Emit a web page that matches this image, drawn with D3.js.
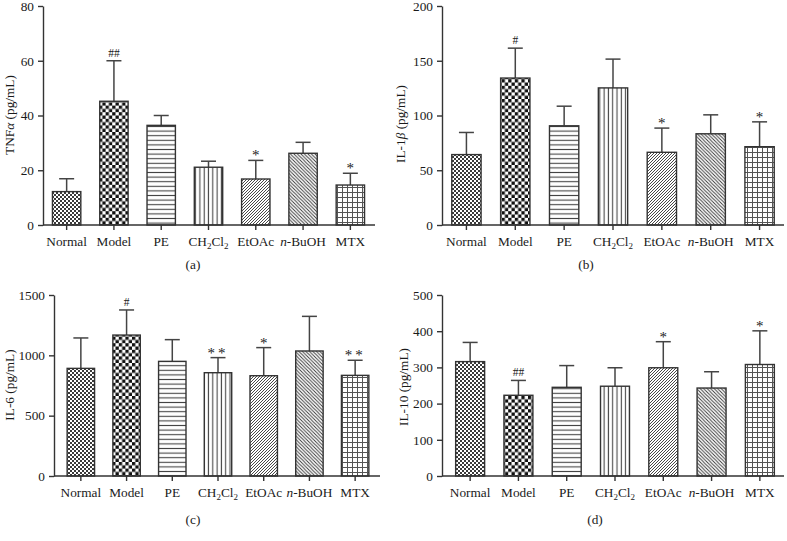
<!DOCTYPE html>
<html><head><meta charset="utf-8">
<script src="https://cdn.jsdelivr.net/npm/d3@7"></script>
<style>
body{margin:0;background:#fff;}
svg{display:block;font-family:"Liberation Serif","Times New Roman",serif;}
</style></head>
<body>
<svg id="chart" width="787" height="541"></svg>
<script>
const categories = ["Normal","Model","PE","CH2Cl2","EtOAc","n-BuOH","MTX"];
const tnfMean = [12.2, 45.2, 36.4, 21.1, 16.8, 26.2, 14.6];
const tnfSD   = [4.7, 14.8, 3.6, 2.2, 6.8, 4.0, 4.3];
const il1bMean = [64.3, 134.2, 90.6, 125.2, 66.4, 83.3, 71.5];
const il1bSD   = [20.2, 27.3, 17.9, 26.3, 22.1, 17.3, 22.7];
const il6Mean = [892, 1168, 950, 856, 831, 1036, 834];
const il6SD   = [252, 208, 180, 125, 233, 287, 125];
const il10Mean = [316, 223, 245, 248, 299, 243, 308];
const il10SD   = [53, 41, 60, 51, 72, 45, 93];
const sigA = ["","##","","","*","","*"];
const sigB = ["","#","","","*","","*"];
const sigC = ["","#","","**","*","","**"];
const sigD = ["","##","","","*","","*"];
const ticksA = [0,20,40,60,80];
const ticksB = [0,50,100,150,200];
const ticksC = [0,500,1000,1500];
const ticksD = [0,100,200,300,400,500];
const panelLabels = ["(a)","(b)","(c)","(d)"];

const svg = d3.select("#chart");
const defs = svg.append("defs");
const ink = "#333";
const txt = "#1a1a1a";

// patterns
function pat(id, w, h, draw){
  const p = defs.append("pattern").attr("id", id).attr("patternUnits","userSpaceOnUse")
    .attr("width", w).attr("height", h);
  p.append("rect").attr("width", w).attr("height", h).attr("fill", "#fff");
  draw(p);
}
pat("p0", 4, 4, p => {
  p.append("rect").attr("x",0).attr("y",0).attr("width",2).attr("height",2).attr("fill","#3a3a3a");
  p.append("rect").attr("x",2).attr("y",2).attr("width",2).attr("height",2).attr("fill","#3a3a3a");
});
pat("p1", 6.6, 6.6, p => {
  p.append("rect").attr("x",0).attr("y",0).attr("width",3.3).attr("height",3.3).attr("fill","#111");
  p.append("rect").attr("x",3.3).attr("y",3.3).attr("width",3.3).attr("height",3.3).attr("fill","#111");
});
pat("p2", 10, 4.6, p => {
  p.append("line").attr("x1",0).attr("x2",10).attr("y1",2.3).attr("y2",2.3).attr("stroke","#444").attr("stroke-width",1.1);
});
pat("p3", 4.3, 10, p => {
  p.append("line").attr("y1",0).attr("y2",10).attr("x1",2.1).attr("x2",2.1).attr("stroke","#444").attr("stroke-width",1.1);
});
pat("p4", 3, 3, p => {
  p.append("path").attr("d","M-1,1 L1,-1 M0,3 L3,0 M2,4 L4,2").attr("stroke","#333").attr("stroke-width",0.9);
});
pat("p5", 3.5, 3.5, p => {
  p.append("path").attr("d","M-1,2.5 L1,4.5 M0,0 L3.5,3.5 M2.5,-1 L4.5,1").attr("stroke","#333").attr("stroke-width",0.9);
});
pat("p6", 5, 5, p => {
  p.append("path").attr("d","M0,2.5 H5 M2.5,0 V5").attr("stroke","#555").attr("stroke-width",1);
});
const fills = ["url(#p0)","url(#p1)","url(#p2)","url(#p3)","url(#p4)","url(#p5)","url(#p6)"];

const panels = [
  {mean: tnfMean, sd: tnfSD, sig: sigA, ticks: ticksA, max: 80, ax: 43, x0: 43, x1: 374, xEnd: 375, yTop: 6, yBot: 225,
   title: [["TNF",""],["α","italic"],[" (pg/mL)",""]], tx: 9, ty: 115, lx: 193, ly: 269, label: panelLabels[0]},
  {mean: il1bMean, sd: il1bSD, sig: sigB, ticks: ticksB, max: 200, ax: 442, x0: 442, x1: 784, xEnd: 784, yTop: 6, yBot: 225,
   title: [["IL-1",""],["β","italic"],[" (pg/mL)",""]], tx: 400, ty: 124, lx: 586, ly: 269, label: panelLabels[1]},
  {mean: il6Mean, sd: il6SD, sig: sigC, ticks: ticksC, max: 1500, ax: 54, x0: 58, x1: 378, xEnd: 380, yTop: 295, yBot: 476,
   title: [["IL-6 (pg/mL)",""]], tx: 9, ty: 385, lx: 193, ly: 524, label: panelLabels[2]},
  {mean: il10Mean, sd: il10SD, sig: sigD, ticks: ticksD, max: 500, ax: 442, x0: 446, x1: 784, xEnd: 784, yTop: 295, yBot: 476,
   title: [["IL-10 (pg/mL)",""]], tx: 403, ty: 387, lx: 595, ly: 524, label: panelLabels[3]}
];

panels.forEach(P => {
  const g = svg.append("g");
  const x = d3.scaleBand().domain(categories).range([P.x0, P.x1]).paddingInner(0.4).paddingOuter(0.2);
  const y = d3.scaleLinear().domain([0, P.max]).range([P.yBot, P.yTop]);

  const data = categories.map((c,i) => ({c, m: P.mean[i], s: P.sd[i], sig: P.sig[i], i}));
  // error bars
  const eb = g.append("g").attr("stroke", "#444").attr("stroke-width", 1.5);
  data.forEach(d => {
    const cx = x(d.c) + x.bandwidth()/2;
    eb.append("line").attr("x1",cx).attr("x2",cx).attr("y1",y(d.m)).attr("y2",y(d.m+d.s));
    eb.append("line").attr("x1",cx-7.5).attr("x2",cx+7.5).attr("y1",y(d.m+d.s)).attr("y2",y(d.m+d.s));
  });
  // bars
  g.append("g").selectAll("rect").data(data).join("rect")
    .attr("x", d => x(d.c)).attr("width", x.bandwidth())
    .attr("y", d => y(d.m)).attr("height", d => y(0)-y(d.m))
    .attr("fill", d => fills[d.i]).attr("stroke", ink).attr("stroke-width", 1.4);

  // significance marks
  data.filter(d => d.sig).forEach(d => {
    const cx = x(d.c) + x.bandwidth()/2;
    const isStar = d.sig.indexOf("*") >= 0;
    g.append("text").attr("x", cx).attr("y", y(d.m+d.s) - (isStar ? 0 : 4))
      .attr("text-anchor","middle").attr("font-size", isStar ? 15 : 11.5)
      .attr("letter-spacing", d.sig === "**" ? 3 : 0)
      .attr("fill", txt).text(d.sig);
  });

  // y axis
  const yAxis = d3.axisLeft(y).tickValues(P.ticks).tickFormat(d3.format("d"))
    .tickSize(5).tickPadding(4).tickSizeOuter(0);
  const ya = g.append("g").attr("transform", `translate(${P.ax},0)`).call(yAxis);
  ya.select(".domain").attr("stroke", ink).attr("stroke-width", 1.4);
  ya.selectAll(".tick line").attr("stroke", ink).attr("stroke-width", 1.4);
  ya.selectAll(".tick text").attr("font-size", 13.3).attr("fill", txt)
    .attr("font-family", '"Liberation Serif",serif');

  // x axis
  const xAxis = d3.axisBottom(x).tickSize(5).tickPadding(7).tickSizeOuter(0).tickFormat(() => "");
  const xa = g.append("g").attr("transform", `translate(0,${P.yBot})`).call(xAxis);
  xa.select(".domain").attr("d", `M${P.ax},0H${P.xEnd}`).attr("stroke", ink).attr("stroke-width", 1.4);
  xa.selectAll(".tick line").attr("stroke", ink).attr("stroke-width", 1.4);
  xa.selectAll(".tick text").each(function(d){
    const t = d3.select(this).attr("font-size", 13.3).attr("fill", txt)
      .attr("font-family", '"Liberation Serif",serif');
    if (d === "CH2Cl2") {
      t.append("tspan").text("CH");
      t.append("tspan").text("2").attr("font-size", 9).attr("dy", 3);
      t.append("tspan").text("Cl").attr("dy", -3);
      t.append("tspan").text("2").attr("font-size", 9).attr("dy", 3);
    } else if (d === "n-BuOH") {
      t.append("tspan").text("n").attr("font-style","italic");
      t.append("tspan").text("-BuOH");
    } else {
      t.text(d);
    }
  });

  // y title
  const tt = g.append("text").attr("transform", `translate(${P.tx},${P.ty}) rotate(-90)`)
    .attr("text-anchor","middle").attr("dy","0.35em").attr("font-size", 13.3).attr("fill", txt);
  P.title.forEach(([s, st]) => tt.append("tspan").text(s).attr("font-style", st || null));

  // panel label
  g.append("text").attr("x", P.lx).attr("y", P.ly).attr("text-anchor","middle")
    .attr("font-size", 13.3).attr("fill", txt).text(P.label);
});
</script>
</body></html>
